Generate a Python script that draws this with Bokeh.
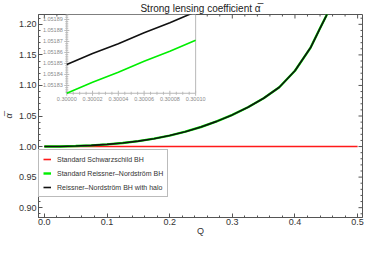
import math
from bokeh.plotting import figure
from bokeh.models import (Range1d, Legend, LegendItem, SingleIntervalTicker, NumeralTickFormatter)
from bokeh.embed import file_html
from bokeh.resources import INLINE
from bokeh.core.properties import value

# ---------------- data ----------------
Q = [0.000, 0.025, 0.050, 0.075, 0.100, 0.125, 0.150, 0.175, 0.200, 0.225,
     0.250, 0.275, 0.300, 0.325, 0.350, 0.375, 0.400, 0.425, 0.440, 0.450, 0.460]
alpha_halo = [1.0000, 1.0002, 1.0008, 1.0019, 1.0036, 1.0059, 1.0089, 1.0129, 1.0180, 1.0243,
              1.0320, 1.0412, 1.0518, 1.0643, 1.0790, 1.0970, 1.1240, 1.1620, 1.1935, 1.2140, 1.2400]
alpha_rn = [1.0000, 1.0002, 1.0008, 1.0019, 1.0036, 1.0059, 1.0089, 1.0129, 1.0180, 1.0243,
            1.0320, 1.0412, 1.0518, 1.0643, 1.0790, 1.0970, 1.1240, 1.1620, 1.1935, 1.2140, 1.2400]
q_schw = [0.0, 0.5]
alpha_schw = [1.0, 1.0]

inset_q = [0.30000, 0.30002, 0.30004, 0.30006, 0.30008, 0.30010]
inset_halo = [1.051849, 1.051859, 1.051868, 1.051878, 1.051887, 1.051897]
inset_rn = [1.051823, 1.051833, 1.051842, 1.051852, 1.051861, 1.051871]

x_ticks = [0.0, 0.1, 0.2, 0.3, 0.4, 0.5]
y_ticks = [0.90, 0.95, 1.00, 1.05, 1.10, 1.15, 1.20]
inset_xticks = [0.30000, 0.30002, 0.30004, 0.30006, 0.30008, 0.30010]
inset_xlabels = ["0.30000", "0.30002", "0.30004", "0.30006", "0.30008", "0.30010"]
inset_yticks = [1.05183, 1.05184, 1.05185, 1.05186, 1.05187, 1.05188, 1.05189]
inset_ylabels = ["1.05183", "1.05184", "1.05185", "1.05186", "1.05187", "1.05188", "1.05189"]

labels = ["Standard Schwarzschild BH", "Standard Reissner\u2013Nordstr\u00f6m BH",
          "Reissner\u2013Nordstr\u00f6m BH with halo"]

# ---------------- layout constants ----------------
X_RANGE = (-0.00935, 0.5078)
Y_RANGE = (0.8839, 1.2161)
INSET_X = (0.30000, 0.30010)          # data limits of inset plot area
INSET_Y = (1.0518229, 1.0518945)
INSET_FX = (0.0873, 0.485)            # fractions of main frame (from left)
INSET_FY = (0.612, 1.0)               # fractions of main frame (from bottom)

FONT = "Liberation Sans"
FRAME = "#555555"
TXT = "#333333"

p = figure(width=366, height=240, output_backend="svg", toolbar_location=None,
           x_range=Range1d(*X_RANGE), y_range=Range1d(*Y_RANGE),
           min_border_left=30, min_border_right=4, min_border_top=12, min_border_bottom=23)
p.background_fill_color = "white"
p.border_fill_color = "white"
p.outline_line_color = FRAME
p.xgrid.visible = False
p.ygrid.visible = False

p.title.text = "Strong lensing coefficient \u03b1\u0305"
p.title.align = "center"
p.title.text_font = FONT
p.title.text_font_size = "10px"
p.title.text_font_style = "normal"
p.title.text_color = "#222222"
p.title.standoff = 1
p.title.offset = 0

def style_axis(ax):
    ax.axis_line_color = FRAME
    ax.major_tick_line_color = FRAME
    ax.minor_tick_line_color = FRAME
    ax.major_tick_in = 4
    ax.major_tick_out = 0
    ax.minor_tick_in = 2
    ax.minor_tick_out = 0
    ax.major_label_text_font = FONT
    ax.major_label_text_font_size = "9px"
    ax.major_label_text_color = TXT
    ax.major_label_standoff = 2
    ax.axis_label_text_font = FONT
    ax.axis_label_text_color = TXT

p.xaxis.ticker = SingleIntervalTicker(interval=0.1, num_minor_ticks=5)
p.yaxis.ticker = SingleIntervalTicker(interval=0.05, num_minor_ticks=5)
p.xaxis.formatter = NumeralTickFormatter(format="0.0")
p.yaxis.formatter = NumeralTickFormatter(format="0.00")
style_axis(p.xaxis[0])
style_axis(p.yaxis[0])
p.xaxis.major_label_standoff = 1
p.xaxis.axis_label = "Q"
p.xaxis.axis_label_text_font_size = "9px"
p.xaxis.axis_label_text_font_style = "normal"
p.xaxis.axis_label_standoff = -2
p.yaxis.axis_label = "\u03b1\u0305"
p.yaxis.axis_label_text_font_size = "9px"
p.yaxis.axis_label_text_font_style = "italic"
p.yaxis.axis_label_standoff = 2

# mirrored ticks on top and right edges (dash markers clipped by the frame)
minor_xt = [t + k * 0.02 for t in x_ticks[:-1] for k in (1, 2, 3, 4)] + [0.52]
minor_yt = [t + k * 0.01 for t in [0.85] + y_ticks for k in (1, 2, 3, 4)]
p.scatter(x_ticks, [Y_RANGE[1]] * len(x_ticks), marker="dash", angle=math.pi / 2,
          size=8, line_color=FRAME)
p.scatter(minor_xt, [Y_RANGE[1]] * len(minor_xt), marker="dash", angle=math.pi / 2,
          size=4, line_color=FRAME)
p.scatter([X_RANGE[1]] * len(y_ticks), y_ticks, marker="dash", size=8, line_color=FRAME)
p.scatter([X_RANGE[1]] * len(minor_yt), minor_yt, marker="dash", size=4, line_color=FRAME)

# ---------------- main curves ----------------
r_red = p.line(q_schw, alpha_schw, line_color="#ff1a1a", line_width=1.6)
r_green = p.line(Q, alpha_rn, line_color="#00ee00", line_width=2.4)
r_black = p.line(Q, alpha_halo, line_color="#111111", line_width=1.6)

# ---------------- inset (drawn on extra ranges) ----------------
ix_span = (INSET_X[1] - INSET_X[0]) / (INSET_FX[1] - INSET_FX[0])
iy_span = (INSET_Y[1] - INSET_Y[0]) / (INSET_FY[1] - INSET_FY[0])
p.extra_x_ranges = {"ix": Range1d(INSET_X[0] - INSET_FX[0] * ix_span,
                                  INSET_X[0] + (1 - INSET_FX[0]) * ix_span)}
p.extra_y_ranges = {"iy": Range1d(INSET_Y[0] - INSET_FY[0] * iy_span,
                                  INSET_Y[0] + (1 - INSET_FY[0]) * iy_span)}
kw = dict(x_range_name="ix", y_range_name="iy")
IGRAY = "#b8b8b8"
LGRAY = "#8a8a8a"

p.quad(left=[INSET_X[0]], right=[INSET_X[1]], bottom=[INSET_Y[0]], top=[INSET_Y[1]],
       fill_color="white", line_color=None, **kw)
p.segment(x0=[INSET_X[0], INSET_X[0], INSET_X[1]], y0=[INSET_Y[0], INSET_Y[0], INSET_Y[0]],
          x1=[INSET_X[0], INSET_X[1], INSET_X[1]], y1=[INSET_Y[1], INSET_Y[0], INSET_Y[1]],
          line_color=IGRAY, line_width=1, **kw)
step_x = inset_xticks[1] - inset_xticks[0]
minor_x = [t + k * step_x / 4 for t in inset_xticks[:-1] for k in (1, 2, 3)]
step_y = inset_yticks[1] - inset_yticks[0]
minor_y = [t + k * step_y / 5 for t in [inset_yticks[0] - step_y] + inset_yticks for k in (1, 2, 3, 4)]
minor_y = [v for v in minor_y if INSET_Y[0] <= v <= INSET_Y[1]]
p.scatter(inset_xticks, [INSET_Y[0]] * len(inset_xticks), marker="dash", angle=math.pi / 2,
          size=5, line_color=IGRAY, **kw)
p.scatter(minor_x, [INSET_Y[0]] * len(minor_x), marker="dash", angle=math.pi / 2,
          size=3, line_color=IGRAY, **kw)
p.scatter([INSET_X[0]] * len(inset_yticks), inset_yticks, marker="dash",
          size=5, line_color=IGRAY, **kw)
p.scatter([INSET_X[0]] * len(minor_y), minor_y, marker="dash",
          size=3, line_color=IGRAY, **kw)
p.text(x=inset_xticks, y=[INSET_Y[0]] * len(inset_xticks), text=inset_xlabels,
       text_font=value(FONT), text_font_size="5.5px", text_color=LGRAY,
       text_align="center", text_baseline="top", y_offset=4, **kw)
p.text(x=[INSET_X[0]] * len(inset_yticks), y=inset_yticks, text=inset_ylabels,
       text_font=value(FONT), text_font_size="5.5px", text_color=LGRAY,
       text_align="right", text_baseline="middle", x_offset=-4, **kw)
p.line(inset_q, inset_halo, line_color="#111111", line_width=1.6, **kw)
p.line(inset_q, inset_rn, line_color="#00ee00", line_width=1.6, **kw)

# ---------------- legend ----------------
legend = Legend(items=[LegendItem(label=labels[0], renderers=[r_red]),
                       LegendItem(label=labels[1], renderers=[r_green]),
                       LegendItem(label=labels[2], renderers=[r_black])],
                location=(0, 20), margin=0, padding=4, spacing=4,
                label_height=10, glyph_height=10, glyph_width=8, label_standoff=6,
                label_text_font=FONT, label_text_font_size="7px", label_text_color=TXT,
                border_line_color="#777777", border_line_width=1,
                background_fill_color="white", background_fill_alpha=1.0)
p.add_layout(legend, "center")

open("out.html", "w").write(file_html(p, INLINE))
